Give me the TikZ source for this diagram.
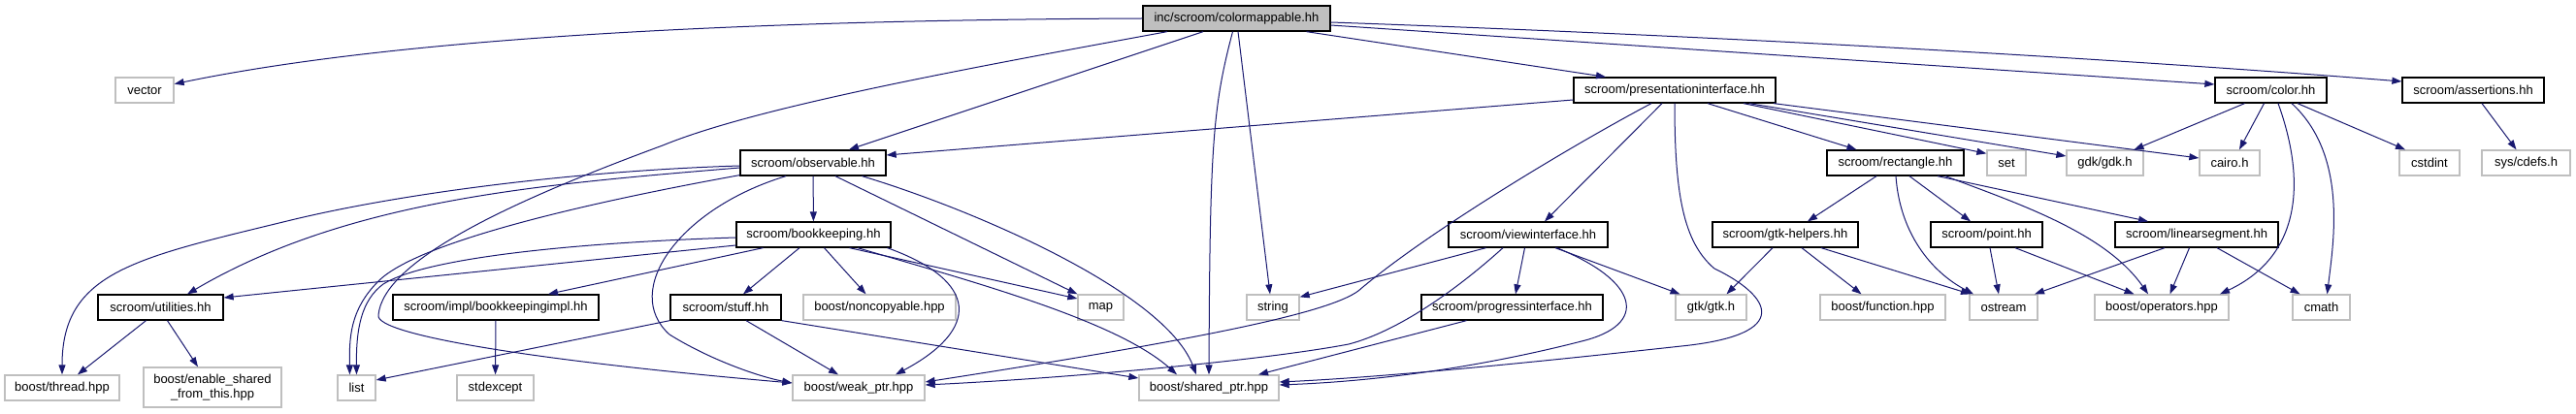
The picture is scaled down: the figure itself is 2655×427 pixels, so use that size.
\documentclass[tikz,border=0pt]{standalone}
\usepackage{fontspec}
\setmainfont{Liberation Sans}
\usetikzlibrary{arrows.meta}
\definecolor{edgec}{HTML}{191970}
\definecolor{graybd}{HTML}{BFBFBF}
\begin{document}
\begin{tikzpicture}[x=1pt,y=-1pt,
  box/.style={rectangle, inner sep=0pt, minimum height=26pt, line width=1.3pt,
    font=\fontsize{13}{15}\selectfont, align=center},
  inc/.style={box, draw=black, fill=white},
  sys/.style={box, draw=graybd, fill=white},
  e/.style={draw=edgec, line width=1pt, -{Triangle[length=10pt,width=7pt]}}]
\fill[white] (0,0) rectangle (2655,427);
\useasboundingbox (0,0) rectangle (2655,427);
% row 0
\node[inc, fill=graybd, minimum width=193pt] (root) at (1274.5,19) {inc/scroom/colormappable.hh};
% row 1
\node[sys, minimum width=60pt] (vec) at (149,93) {vector};
\node[inc, minimum width=208pt] (pres) at (1726,93) {scroom/presentationinterface.hh};
\node[inc, minimum width=115pt] (color) at (2340.5,93) {scroom/color.hh};
\node[inc, minimum width=146pt] (assert) at (2549,93) {scroom/assertions.hh};
% row 2
\node[inc, minimum width=150pt] (obs) at (838,168) {scroom/observable.hh};
\node[inc, minimum width=141pt] (rect) at (1953.5,168) {scroom/rectangle.hh};
\node[sys, minimum width=40pt] (set) at (2068,168) {set};
\node[sys, minimum width=79pt] (gdk) at (2169.5,168) {gdk/gdk.h};
\node[sys, minimum width=62pt] (cairo) at (2298,168) {cairo.h};
\node[sys, minimum width=62pt] (cstdint) at (2504,168) {cstdint};
\node[sys, minimum width=91pt] (cdefs) at (2603.5,168) {sys/cdefs.h};
% row 3
\node[inc, minimum width=159pt] (book) at (838.5,242) {scroom/bookkeeping.hh};
\node[inc, minimum width=164pt] (view) at (1575,242) {scroom/viewinterface.hh};
\node[inc, minimum width=150pt] (gtkh) at (1840,242) {scroom/gtk-helpers.hh};
\node[inc, minimum width=115pt] (point) at (2047.5,242) {scroom/point.hh};
\node[inc, minimum width=168pt] (lin) at (2264,242) {scroom/linearsegment.hh};
% row 4
\node[inc, minimum width=129pt] (util) at (165.5,317) {scroom/utilities.hh};
\node[inc, minimum width=212pt] (impl) at (511,317) {scroom/impl/bookkeepingimpl.hh};
\node[inc, minimum width=114pt] (stuff) at (748,317) {scroom/stuff.hh};
\node[sys, minimum width=157pt] (noncop) at (906.5,317) {boost/noncopyable.hpp};
\node[sys, minimum width=47pt] (map) at (1134.5,317) {map};
\node[sys, minimum width=54pt] (string) at (1312,317) {string};
\node[inc, minimum width=187pt] (prog) at (1558.5,317) {scroom/progressinterface.hh};
\node[sys, minimum width=73pt] (gtk) at (1763.5,317) {gtk/gtk.h};
\node[sys, minimum width=129pt] (func) at (1940.5,317) {boost/function.hpp};
\node[sys, minimum width=70pt] (ostream) at (2065,317) {ostream};
\node[sys, minimum width=138pt] (ops) at (2228,317) {boost/operators.hpp};
\node[sys, minimum width=59pt] (cmath) at (2392.5,317) {cmath};
% row 5
\node[sys, minimum width=118pt] (thread) at (64,400) {boost/thread.hpp};
\node[sys, minimum width=142pt, minimum height=41pt] (enable) at (219,399.5) {boost/enable\_shared\\\_from\_this.hpp};
\node[sys, minimum width=39pt] (list) at (367.5,400) {list};
\node[sys, minimum width=79pt] (stdexc) at (510.5,400) {stdexcept};
\node[sys, minimum width=136pt] (weak) at (885,400) {boost/weak\_ptr.hpp};
\node[sys, minimum width=144pt] (shared) at (1246,400) {boost/shared\_ptr.hpp};

% root edges
\draw[e] (root.west) .. controls (700,21) and (380,45) .. (vec);
\draw[e] ([xshift=-71.5]root.south) .. controls (1000,70) and (780,110) .. (683,150)
   .. controls (520,210) and (395,270) .. (390,325)
   .. controls (386,345) and (550,372) .. ([yshift=5]weak.west);
\draw[e] ([xshift=-34.5]root.south) -- ([xshift=37]obs.north);
\draw[e] ([xshift=-4]root.south) .. controls (1250,110) and (1247,150) .. (shared.north);
\draw[e] ([xshift=1.5]root.south) -- ([xshift=-3]string.north);
\draw[e] ([xshift=72]root.south) -- ([xshift=-71]pres.north);
\draw[e] ([yshift=-7]root.east) -- ([yshift=6]color.west);
\draw[e] ([yshift=-4]root.east) .. controls (1800,38) and (2200,62) .. ([yshift=9]assert.west);

% presentationinterface edges
\draw[e] ([yshift=-10]pres.west) -- ([yshift=8]obs.east);
\draw[e] ([xshift=-24]pres.south) .. controls (1620,150) and (1470,240) .. (1400,300)
   .. controls (1370,322) and (1250,348) .. ([yshift=6]weak.east);
\draw[e] ([xshift=-13]pres.south) -- ([xshift=17]view.north);
\draw[e] (pres.south) .. controls (1726,200) and (1735,250) .. (1767,277)
   .. controls (1825,305) and (1850,345) .. (1733,357)
   .. controls (1650,366) and (1450,388) .. ([yshift=6]shared.east);
\draw[e] ([xshift=34]pres.south) -- ([xshift=-40]rect.north);
\draw[e] ([xshift=71]pres.south) -- ([yshift=-4]set.north west);
\draw[e] ([xshift=77]pres.south) -- ([yshift=7]gdk.west);
\draw[e] ([xshift=102]pres.south) -- ([yshift=5]cairo.west);

% color edges
\draw[e] ([xshift=-27]color.south) -- ([xshift=30]gdk.north);
\draw[e] ([xshift=-7]color.south) -- ([xshift=10]cairo.north);
\draw[e] ([xshift=27.5]color.south) -- ([xshift=-25]cstdint.north);
\draw[e] ([xshift=7.5]color.south) .. controls (2378,190) and (2370,265) .. ([xshift=60]ops.north);
\draw[e] ([xshift=21.5]color.south) .. controls (2420,160) and (2405,250) .. ([xshift=6]cmath.north);

% assertions
\draw[e] ([xshift=9]assert.south) -- ([xshift=-10]cdefs.north);

% rectangle edges
\draw[e] ([xshift=-19.5]rect.south) -- ([xshift=23]gtkh.north);
\draw[e] ([xshift=0.5]rect.south) .. controls (1958,240) and (1990,280) .. ([xshift=-31]ostream.north);
\draw[e] ([xshift=14.5]rect.south) -- ([xshift=-16.5]point.north);
\draw[e] ([xshift=43.5]rect.south) -- ([xshift=-50]lin.north);
\draw[e] ([xshift=51.5]rect.south) .. controls (2080,210) and (2170,240) .. ([xshift=-14]ops.north);

% gtk-helpers edges
\draw[e] ([xshift=-13]gtkh.south) -- ([xshift=16]gtk.north);
\draw[e] ([xshift=17]gtkh.south) -- ([xshift=-22]func.north);
\draw[e] ([xshift=37]gtkh.south) -- ([xshift=-34]ostream.north);

% point edges
\draw[e] ([xshift=3.5]point.south) -- ([xshift=-5]ostream.north);
\draw[e] ([xshift=29.5]point.south) -- ([xshift=-28.5]ops.north);

% linearsegment edges
\draw[e] ([xshift=-33]lin.south) -- ([xshift=32]ostream.north);
\draw[e] ([xshift=-7.5]lin.south) -- ([xshift=8.5]ops.north);
\draw[e] ([xshift=21]lin.south) -- ([xshift=-22]cmath.north);

% viewinterface edges
\draw[e] ([xshift=-43.5]view.south) -- ([yshift=-3]string.north east);
\draw[e] ([xshift=-26]view.south) .. controls (1500,300) and (1440,342) .. (1390,355)
   .. controls (1300,372) and (1100,390) .. ([yshift=3]weak.east);
\draw[e] ([xshift=-3.5]view.south) -- ([xshift=3.5]prog.north);
\draw[e] ([xshift=29.5]view.south) .. controls (1690,290) and (1700,335) .. (1630,352)
   .. controls (1560,370) and (1450,392) .. ([yshift=3]shared.east);
\draw[e] ([xshift=28]view.south) -- ([xshift=-32]gtk.north);

% progressinterface
\draw[e] ([xshift=-47]prog.south) -- ([xshift=51]shared.north);

% observable edges
\draw[e] ([yshift=-3]obs.west) .. controls (600,176) and (420,198) .. (300,227)
   .. controls (140,266) and (64,280) .. (thread.north);
\draw[e] ([yshift=-5]obs.west) .. controls (560,190) and (360,205) .. ([xshift=27.5]util.north);
\draw[e] ([yshift=1]obs.south west) .. controls (600,210) and (430,250) .. (390,290)
   .. controls (360,320) and (360,350) .. ([xshift=-7]list.north);
\draw[e] ([xshift=-28]obs.south) .. controls (700,215) and (640,300) .. (690,345)
   .. controls (730,370) and (780,388) .. ([yshift=5]weak.west);
\draw[e] (obs) -- (book);
\draw[e] ([xshift=23]obs.south) -- (map.north west);
\draw[e] ([xshift=50.5]obs.south) .. controls (1000,215) and (1200,300) .. ([xshift=-13]shared.north);

% bookkeeping edges
\draw[e] ([yshift=-11]book.west) -- ([yshift=10]util.east);
\draw[e] ([yshift=-3]book.west) .. controls (600,250) and (440,265) .. (395,293)
   .. controls (372,310) and (367,340) .. (list.north);
\draw[e] ([xshift=-52]book.south) -- ([xshift=54]impl.north);
\draw[e] ([xshift=-14.5]book.south) -- ([xshift=18]stuff.north);
\draw[e] ([xshift=11]book.south) -- ([xshift=-14]noncop.north);
\draw[e] ([xshift=37]book.south) -- ([yshift=9]map.west);
\draw[e] ([xshift=45.5]book.south) .. controls (1000,290) and (1150,330) .. ([xshift=-33]shared.north);
\draw[e] ([xshift=76]book.south) .. controls (1010,290) and (1010,340) .. ([xshift=38]weak.north);

% utilities edges
\draw[e] ([xshift=-15]util.south) -- ([xshift=16]thread.north);
\draw[e] ([xshift=7]util.south) -- ([xshift=-15]enable.north);

% impl
\draw[e] (impl) -- (stdexc);

% stuff edges
\draw[e] (stuff.south west) -- ([yshift=8]list.east);
\draw[e] ([xshift=21]stuff.south) -- ([xshift=-21]weak.north);
\draw[e] (stuff.south east) -- ([yshift=10]shared.west);
\end{tikzpicture}
\end{document}
